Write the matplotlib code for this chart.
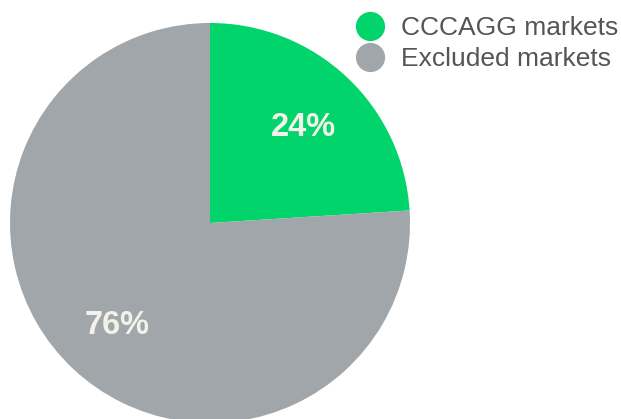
import matplotlib.pyplot as plt
from matplotlib.lines import Line2D

# Market share of trading volume
labels = ["CCCAGG markets", "Excluded markets"]
shares = [24, 76]
colors = ["#00d46a", "#a0a6a9"]

plt.rcParams["font.family"] = ["Liberation Sans", "DejaVu Sans"]

fig = plt.figure(figsize=(6.21, 4.19), dpi=100)
ax = fig.add_axes([10 / 621, -4 / 419, 400 / 621, 400 / 419])

wedges, texts, autotexts = ax.pie(
    shares,
    colors=colors,
    startangle=90,
    counterclock=False,
    autopct="%d%%",
    pctdistance=0.68,
    radius=1.0,
    wedgeprops=dict(linewidth=0),
    textprops=dict(color="#f2f1ea", fontsize=23.5, fontweight="bold"),
)
for t in autotexts:
    t.set_verticalalignment("center_baseline")
ax.set_xlim(-1, 1)
ax.set_ylim(-1, 1)
ax.set_aspect("equal")

handles = [
    Line2D([], [], marker="o", linestyle="none", markersize=20,
           markerfacecolor=c, markeredgecolor=c)
    for c in colors
]
fig.legend(
    handles, labels,
    loc="upper right", bbox_to_anchor=(1.006, 0.977),
    frameon=False, fontsize=19, labelcolor="#555555",
    handletextpad=0.62, labelspacing=0.25, borderaxespad=0.05,
    borderpad=0.2, handlelength=1.1,
)

fig.savefig("out.png", dpi=100)
